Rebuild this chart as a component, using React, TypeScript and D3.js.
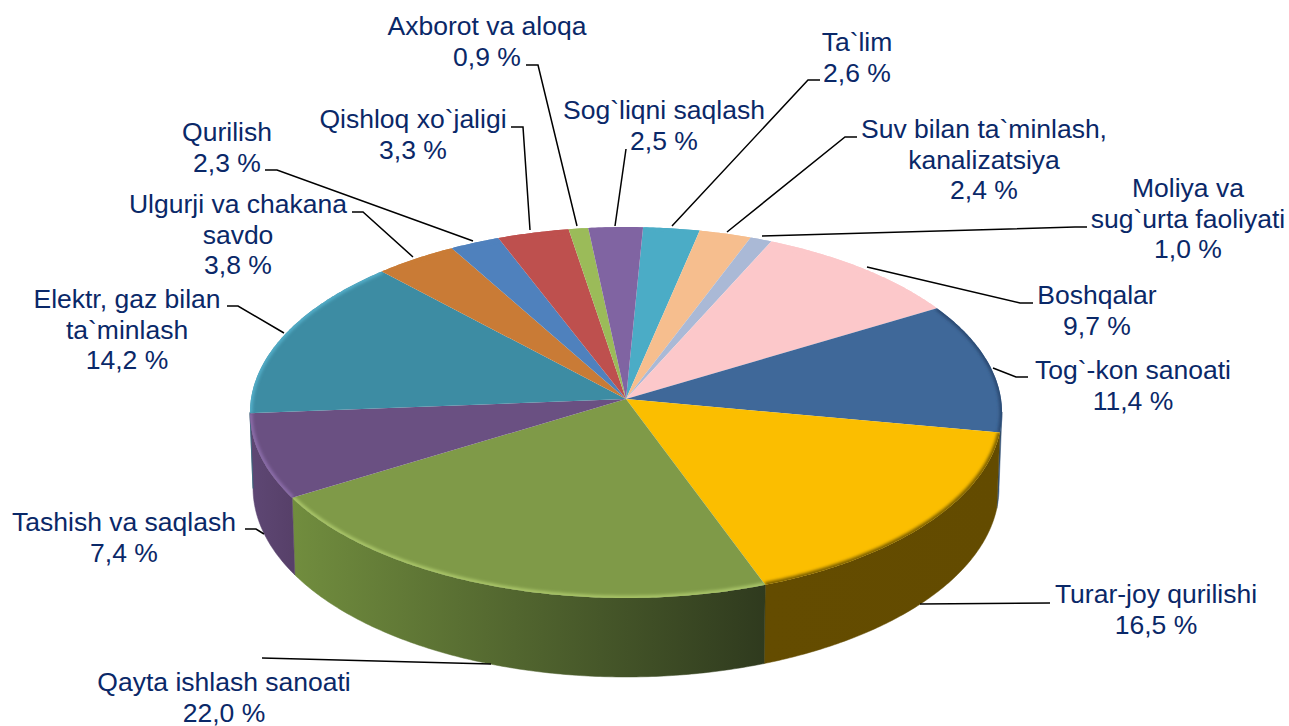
import React from "react";
import * as d3 from "d3";

const categories = [
  ["Ta`lim"],
  ["Suv bilan ta`minlash,", "kanalizatsiya"],
  ["Moliya va", "sug`urta faoliyati"],
  ["Boshqalar"],
  ["Tog`-kon sanoati"],
  ["Turar-joy qurilishi"],
  ["Qayta ishlash sanoati"],
  ["Tashish va saqlash"],
  ["Elektr, gaz bilan", "ta`minlash"],
  ["Ulgurji va chakana", "savdo"],
  ["Qurilish"],
  ["Qishloq xo`jaligi"],
  ["Axborot va aloqa"],
  ["Sog`liqni saqlash"],
];
const values = [2.6, 2.4, 1.0, 9.7, 11.4, 16.5, 22.0, 7.4, 14.2, 3.8, 2.3, 3.3, 0.9, 2.5];
const valueLabels = ["2,6 %", "2,4 %", "1,0 %", "9,7 %", "11,4 %", "16,5 %", "22,0 %", "7,4 %", "14,2 %", "3,8 %", "2,3 %", "3,3 %", "0,9 %", "2,5 %"];

const topColors = ["#4BACC6", "#F6BE8E", "#AAB9D6", "#FCC8CA", "#3F6899", "#FBBE00", "#7F9A48", "#6A5082", "#3D8CA3", "#C97B36", "#4F81BD", "#BE504E", "#9BBB59", "#8064A2"];
const rimColors = ["#4BACC6", "#F6BE8E", "#AAB9D6", "#FCC8CA", "#2A4A72", "#7A5E00", "#A8C468", "#8A6CA8", "#52ADC8", "#C97B36", "#4F81BD", "#BE504E", "#9BBB59", "#8064A2"];
const wallLeft = ["#333", "#333", "#333", "#333", "#2F4E73", "#644C00", "#718D3E", "#5E4774", "#2E6A7C", "#333", "#333", "#333", "#333", "#333"];
const wallRight = ["#333", "#333", "#333", "#333", "#2F4E73", "#634B00", "#2F3A1E", "#574069", "#2E6A7C", "#333", "#333", "#333", "#333", "#333"];

// label layout: centre x, first baseline
const labelX = [857, 984, 1188, 1097, 1133, 1156, 224, 124, 127, 238, 227, 413, 487, 664];
const labelY = [51, 138, 197, 304, 379, 603, 691, 531, 308, 213, 141, 128, 35, 119];
const leaders: [number, number][][] = [
  [[820, 80], [808, 80], [672, 226]],
  [[857, 137], [845, 137], [727, 232]],
  [[1087, 227], [1075, 227], [762, 236]],
  [[1033, 303], [1020, 303], [867, 267]],
  [[1028, 377], [1016, 377], [993, 368]],
  [[1050, 603], [920, 604]],
  [[262, 658], [491, 664]],
  [[245, 529], [256, 529], [264, 534]],
  [[227, 306], [238, 306], [284, 333]],
  [[352, 212], [363, 212], [413, 257]],
  [[265, 170], [277, 170], [473, 241]],
  [[511, 127], [523, 127], [530, 230]],
  [[526, 65], [538, 65], [577, 226]],
  [[626, 149], [615, 226]],
];

const WIDTH = 1289;
const HEIGHT = 726;
const cx = 626;
const cy = 399;
const R = 375;
const A = 184.5;
const K = 0.0728;
const START = (2.8 * Math.PI) / 180;
const WALL_FROM = (94 * Math.PI) / 180;
const WALL_TO = (266 * Math.PI) / 180;

const project = (t: number): [number, number] => {
  const X = Math.sin(t);
  const Z = Math.cos(t);
  const s = 1 / (1 + K * Z);
  return [cx + R * X * s, cy - A * Z * s];
};
const projectLower = (t: number): [number, number] => {
  const X = Math.sin(t);
  const Z = Math.cos(t);
  const s = 1 / (1 + K * Z);
  return [cx + R * 0.992 * X * s, cy - A * Z * s + 75 - 4 * Z];
};

const samples = (a: number, b: number) => {
  const n = Math.max(2, Math.ceil((b - a) / 0.01));
  return d3.range(n + 1).map((i) => a + ((b - a) * i) / n);
};

const line = d3.line<[number, number]>().x((d) => d[0]).y((d) => d[1]);

const slices = d3
  .pie<number>()
  .sort(null)
  .startAngle(START)
  .endAngle(START + 2 * Math.PI)(values);

export default function App() {
  const order = slices.map((_, i) => i);
  return (
    <svg
      width={WIDTH}
      height={HEIGHT}
      viewBox={`0 0 ${WIDTH} ${HEIGHT}`}
      style={{ position: "fixed", left: 0, top: 0, background: "#fff" }}
    >
      <defs>
        <filter id="soft" x="-20%" y="-20%" width="140%" height="140%">
          <feGaussianBlur stdDeviation="1.8" />
        </filter>
        {order.map((i) => {
          const a = Math.max(slices[i].startAngle, WALL_FROM);
          const b = Math.min(slices[i].endAngle, WALL_TO);
          if (a >= b) return null;
          const xs = samples(a, b).map((t) => project(t)[0]);
          return (
            <linearGradient
              key={i}
              id={`wall${i}`}
              gradientUnits="userSpaceOnUse"
              x1={d3.min(xs)}
              x2={d3.max(xs)}
              y1={0}
              y2={0}
            >
              <stop offset="0" stopColor={wallLeft[i]} />
              <stop offset="1" stopColor={wallRight[i]} />
            </linearGradient>
          );
        })}
        {slices.map((s, i) => {
          const rim = samples(s.startAngle, s.endAngle).map((t) => project(t));
          return (
            <clipPath id={`top${i}`} key={i}>
              <path d={(line([[cx, cy], ...rim]) as string) + "Z"} />
            </clipPath>
          );
        })}
      </defs>

      {/* outer walls */}
      {order.map((i) => {
        const a = Math.max(slices[i].startAngle, WALL_FROM);
        const b = Math.min(slices[i].endAngle, WALL_TO);
        if (a >= b) return null;
        const ts = samples(a, b);
        const upper = ts.map((t) => project(t));
        const lower = ts.slice().reverse().map((t) => projectLower(t));
        return (
          <path
            key={i}
            d={(line([...upper, ...lower]) as string) + "Z"}
            fill={`url(#wall${i})`}
            stroke={`url(#wall${i})`}
            strokeWidth={0.5}
          />
        );
      })}

      {/* top face */}
      {slices.map((s, i) => {
        const ts = samples(s.startAngle, s.endAngle);
        const rim = ts.map((t) => project(t));
        return (
          <g key={i}>
            <path d={(line([[cx, cy], ...rim]) as string) + "Z"} fill={topColors[i]} />
            <g clipPath={`url(#top${i})`}>
              <path
                d={line(rim) as string}
                fill="none"
                stroke={rimColors[i]}
                strokeWidth={5}
                filter="url(#soft)"
              />
            </g>
          </g>
        );
      })}

      {/* leaders */}
      {leaders.map((pts, i) => (
        <path key={i} d={line(pts) as string} fill="none" stroke="#000" strokeWidth={1.5} />
      ))}

      {/* labels */}
      {categories.map((lines, i) => (
        <text
          key={i}
          fontFamily="'Liberation Sans', Arial, sans-serif"
          fontSize={26.5}
          fill="#0A2868"
          textAnchor="middle"
        >
          {[...lines, valueLabels[i]].map((t, j) => (
            <tspan key={j} x={labelX[i]} y={labelY[i] + j * 30.7}>
              {t}
            </tspan>
          ))}
        </text>
      ))}
    </svg>
  );
}
